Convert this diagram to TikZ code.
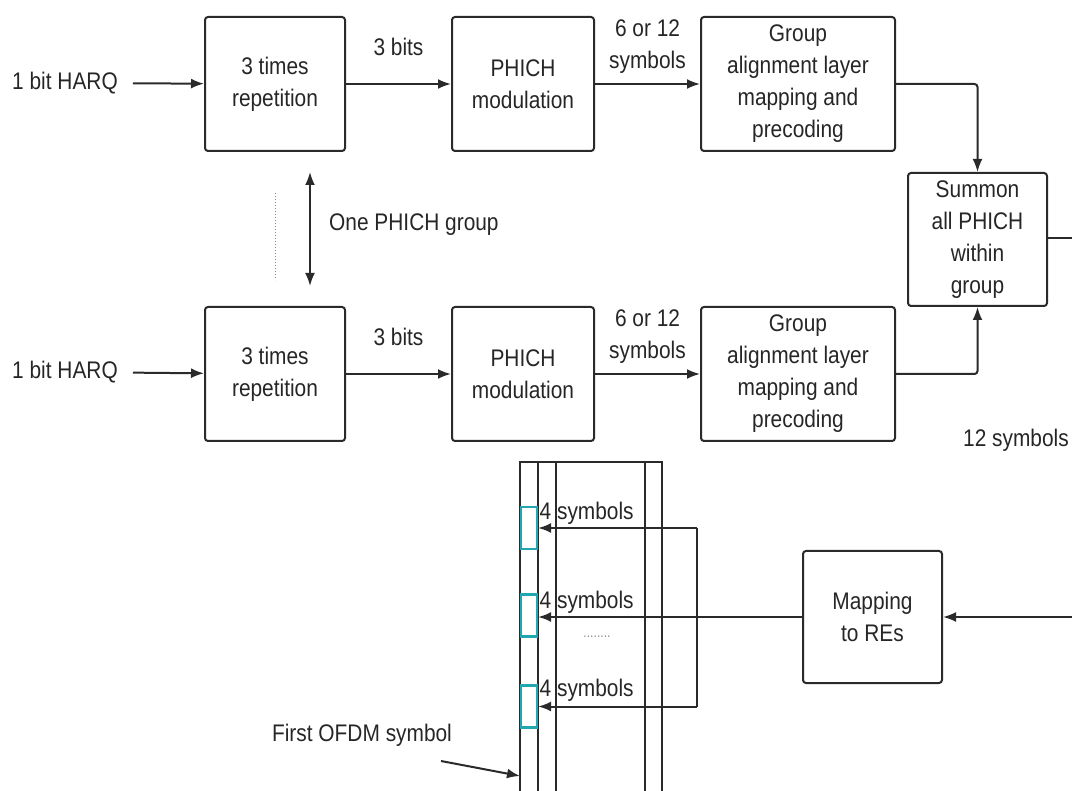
\documentclass[tikz,border=0pt]{standalone}
\usepackage{fontspec}
\setmainfont{Liberation Sans}[FakeStretch=0.87]
\usepackage{xcolor}
\usetikzlibrary{arrows.meta,positioning}
\definecolor{Ink}{HTML}{262626}
\definecolor{Line}{HTML}{2A2A2A}
\definecolor{Faint}{HTML}{8A8A8A}
\definecolor{ReCyan}{HTML}{22A6B0}

\begin{document}
\begin{tikzpicture}[x=1pt, y=-1pt,
  block/.style={draw=Line, line width=2pt, rounded corners=3pt, fill=white,
    minimum height=134pt, align=center, text=Ink, inner sep=2pt,
    font=\fontsize{24}{32}\selectfont},
  lbl/.style={text=Ink, align=center, inner sep=1pt,
    font=\fontsize{24}{32}\selectfont},
  flow/.style={-{Latex[length=13pt,width=10pt]}, line width=2pt, draw=Line},
  wire/.style={line width=2pt, draw=Line},
  re/.style={draw=ReCyan, line width=2.2pt, minimum width=16pt,
    minimum height=42pt, inner sep=0pt}
]
  \useasboundingbox (0,0) rectangle (1072,791);
  \clip (0,0) rectangle (1072,791);

  % upper branch
  \node[block, minimum width=140pt] (rep1) at (275,84) {3 times\\repetition};
  \node[block, minimum width=142pt, right=105pt of rep1] (mod1) {PHICH\\modulation};
  \node[block, minimum width=194pt, right=105pt of mod1] (grp1) {Group\\alignment layer\\mapping and\\precoding};
  \node[lbl] (harq1) at (65,83) {1 bit HARQ};

  % lower branch
  \node[block, minimum width=140pt, below=154pt of rep1] (rep2) {3 times\\repetition};
  \node[block, minimum width=142pt, right=105pt of rep2] (mod2) {PHICH\\modulation};
  \node[block, minimum width=194pt, right=105pt of mod2] (grp2) {Group\\alignment layer\\mapping and\\precoding};
  \node[lbl] (harq2) at (65,372) {1 bit HARQ};

  \node[block, minimum width=139pt, minimum height=133pt] (sum) at (977.5,239.5) {Summon\\all PHICH\\within\\group};
  \node[block, minimum width=139pt, minimum height=132pt] (map) at (872.5,617) {Mapping\\to REs};

  \draw[flow, shorten <=14pt] (harq1) -- (rep1);
  \draw[flow] (rep1) -- node[lbl, midway, yshift=37pt] (bits1) {3 bits} (mod1);
  \draw[flow] (mod1) -- node[lbl, midway, yshift=37pt] (syms1) {6 or 12\\symbols} (grp1);
  \draw[flow, shorten <=14pt] (harq2) -- (rep2);
  \draw[flow] (rep2) -- node[lbl, midway, yshift=37pt] (bits2) {3 bits} (mod2);
  \draw[flow] (mod2) -- node[lbl, midway, yshift=37pt] (syms2) {6 or 12\\symbols} (grp2);
  \draw[flow, rounded corners=3pt] (grp1.east) -| (sum.north);
  \draw[flow, rounded corners=3pt] (grp2.east) -| (sum.south);

  % group marker
  \coordinate (grpTop) at (310,172);
  \coordinate (grpBot) at (310,286);
  \draw[{Latex[length=13pt,width=10pt]}-{Latex[length=13pt,width=10pt]}, wire] (grpTop) -- (grpBot);
  \draw[Faint, line width=1pt, dotted] (275,193) -- (275,280);
  \node[lbl, anchor=west] (onegrp) at (328,225) {One PHICH group};

  % off-page links
  \coordinate (edgeA) at (1072,238);
  \coordinate (edgeB) at (1072,617);
  \draw[wire] (sum.east |- edgeA) -- (edgeA);
  \node[lbl, anchor=east] (twelve) at (1070,440) {12 symbols};
  \draw[flow] (edgeB) -- (map.east);

  % resource grid
  \draw[wire] (520,795) -- (520,462) -- (662,462) -- (662,795);
  \foreach \gx in {538,556,645}
    \draw[wire] (\gx,462) -- (\gx,795);

  \node[re] (re1) at (529,528) {};
  \node[re] (re2) at (529,615.5) {};
  \node[re] (re3) at (529,706.5) {};
  \foreach \k/\sy in {1/513,2/602,3/690}
    \node[lbl, anchor=west] (sym\k) at (538.5,\sy) {4 symbols};
  \node[text=Faint, font=\fontsize{14}{14}\selectfont] (dots) at (597,637) {........};

  \coordinate (tapA) at (697,528);
  \coordinate (tapC) at (697,706.5);
  \draw[wire] (tapA) -- (tapC);
  \draw[flow] (map.west) -- (map.west -| re2.east);
  \draw[flow] (tapA) -- (re1.east);
  \draw[flow] (tapC) -- (re3.east);

  \node[lbl] (ofdm) at (362,735) {First OFDM symbol};
  \coordinate (ofdmHit) at (520,776);
  \draw[flow] (441,761) -- (ofdmHit);
\end{tikzpicture}
\end{document}
